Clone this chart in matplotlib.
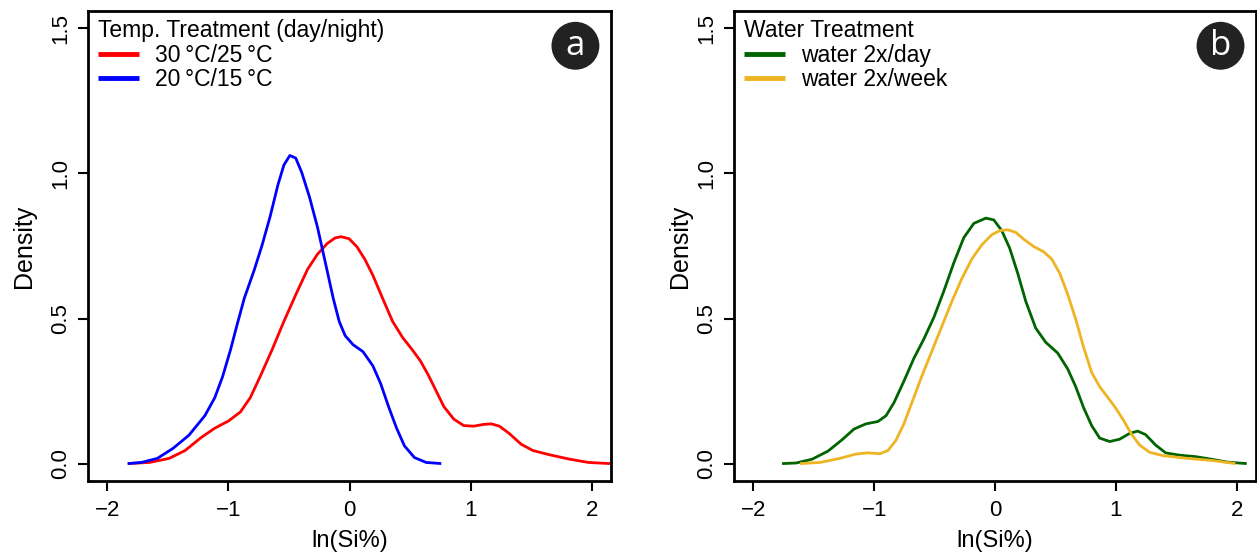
import matplotlib
matplotlib.use("Agg")
import matplotlib.pyplot as plt

# ========================= data ========================= #
# kernel density of ln(Si%) per treatment, traced as (x, density) points

# temperature treatment (day/night)
hot_x = [-1.832, -1.652, -1.489, -1.358, -1.228, -1.113, -0.999, -0.901, -0.820, -0.738,
         -0.640, -0.542, -0.444, -0.346, -0.264, -0.183, -0.118, -0.069, -0.003, 0.062,
         0.127, 0.193, 0.274, 0.356, 0.438, 0.519, 0.584, 0.650, 0.715, 0.780,
         0.862, 0.944, 1.025, 1.107, 1.172, 1.238, 1.319, 1.417, 1.515, 1.646,
         1.809, 1.972, 2.152]
hot_y = [0.000, 0.004, 0.018, 0.045, 0.089, 0.122, 0.147, 0.178, 0.227, 0.300,
         0.392, 0.490, 0.582, 0.670, 0.722, 0.759, 0.778, 0.782, 0.775, 0.747,
         0.704, 0.649, 0.569, 0.490, 0.435, 0.392, 0.355, 0.306, 0.251, 0.196,
         0.153, 0.131, 0.129, 0.135, 0.137, 0.129, 0.104, 0.067, 0.045, 0.031,
         0.016, 0.004, 0.000]

cool_x = [-1.832, -1.718, -1.587, -1.456, -1.326, -1.195, -1.113, -1.048, -0.983, -0.934,
          -0.869, -0.787, -0.722, -0.656, -0.591, -0.542, -0.493, -0.444, -0.395, -0.330,
          -0.264, -0.199, -0.134, -0.085, -0.036, 0.029, 0.111, 0.193, 0.258, 0.323,
          0.389, 0.454, 0.536, 0.633, 0.758]
cool_y = [0.000, 0.004, 0.018, 0.053, 0.098, 0.165, 0.227, 0.300, 0.392, 0.470,
          0.570, 0.667, 0.753, 0.851, 0.961, 1.029, 1.062, 1.053, 1.004, 0.918,
          0.814, 0.692, 0.569, 0.490, 0.441, 0.410, 0.386, 0.337, 0.275, 0.196,
          0.122, 0.061, 0.021, 0.004, 0.000]

# watering treatment
daily_x = [-1.762, -1.646, -1.514, -1.382, -1.266, -1.167, -1.068, -0.969, -0.902, -0.836,
           -0.754, -0.671, -0.588, -0.506, -0.423, -0.340, -0.258, -0.175, -0.076, -0.010,
           0.056, 0.122, 0.188, 0.255, 0.337, 0.420, 0.519, 0.602, 0.668, 0.734,
           0.800, 0.866, 0.949, 1.031, 1.114, 1.180, 1.246, 1.329, 1.412, 1.527,
           1.660, 1.792, 1.924, 2.083]
daily_y = [0.000, 0.002, 0.015, 0.043, 0.082, 0.119, 0.137, 0.145, 0.165, 0.210,
           0.284, 0.363, 0.430, 0.504, 0.595, 0.693, 0.779, 0.828, 0.846, 0.840,
           0.803, 0.742, 0.656, 0.559, 0.467, 0.418, 0.381, 0.326, 0.265, 0.192,
           0.131, 0.088, 0.076, 0.084, 0.104, 0.112, 0.100, 0.064, 0.037, 0.029,
           0.024, 0.015, 0.005, 0.000]

weekly_x = [-1.613, -1.448, -1.283, -1.150, -1.051, -0.952, -0.886, -0.820, -0.754, -0.688,
            -0.605, -0.522, -0.440, -0.357, -0.274, -0.192, -0.109, -0.026, 0.040, 0.106,
            0.172, 0.238, 0.321, 0.403, 0.469, 0.536, 0.602, 0.668, 0.734, 0.800,
            0.866, 0.932, 0.998, 1.064, 1.131, 1.197, 1.279, 1.395, 1.593, 1.792,
            1.990]
weekly_y = [0.000, 0.004, 0.018, 0.033, 0.037, 0.034, 0.045, 0.080, 0.137, 0.210,
            0.302, 0.388, 0.473, 0.559, 0.638, 0.705, 0.754, 0.789, 0.803, 0.806,
            0.797, 0.773, 0.748, 0.730, 0.705, 0.656, 0.583, 0.498, 0.400, 0.314,
            0.265, 0.229, 0.192, 0.149, 0.100, 0.064, 0.039, 0.027, 0.018, 0.011,
            0.000]

xticks = [-2, -1, 0, 1, 2]
yticks = [0.0, 0.5, 1.0, 1.5]
ytick_labels = ["0.0", "0.5", "1.0", "1.5"]

panels = [
    dict(letter="a", title="Temp. Treatment (day/night)",
         curves=[(hot_x, hot_y, "#FF0000", "30\u2009\u00b0C/25\u2009\u00b0C"),
                 (cool_x, cool_y, "#0000FF", "20\u2009\u00b0C/15\u2009\u00b0C")],
         rect=[88 / 1257, 75 / 556, 523 / 1257, 470 / 556], ylab_x=-0.100),
    dict(letter="b", title="Water Treatment",
         curves=[(daily_x, daily_y, "#006400", "water 2x/day"),
                 (weekly_x, weekly_y, "#EEB422", "water 2x/week")],
         rect=[734 / 1257, 75 / 556, 522 / 1257, 470 / 556], ylab_x=-0.080),
]

# ========================= plot ========================= #
plt.rcParams['font.family'] = ['Liberation Sans', 'DejaVu Sans']

fig = plt.figure(figsize=(12.57, 5.56), dpi=100)

for p in panels:
    ax = fig.add_axes(p["rect"])
    for xs, ys, col, lab in p["curves"]:
        ax.plot(xs, ys, color=col, lw=2.0, label=lab,
                solid_joinstyle="round", solid_capstyle="butt")

    # R style: 4% padding around fixed limits
    ax.set_xlim(-2.16, 2.16)
    ax.set_ylim(-0.06, 1.56)
    ax.set_xticks(xticks)
    ax.set_xticklabels([str(t).replace("-", "\u2212") for t in xticks])
    ax.set_yticks(yticks)
    ax.set_yticklabels(ytick_labels, rotation=90, va="center")
    ax.tick_params(length=7, width=1.5, labelsize=16, color="black")
    ax.tick_params(axis="x", pad=7)
    ax.tick_params(axis="y", pad=5)
    for s in ax.spines.values():
        s.set_linewidth(2.0)

    ax.set_xlabel("ln(Si%)", fontsize=17)
    ax.set_ylabel("Density", fontsize=18)
    ax.xaxis.set_label_coords(0.5, -0.104)
    ax.yaxis.set_label_coords(p["ylab_x"], 0.5)

    leg = ax.legend(title=p["title"], loc="upper left", bbox_to_anchor=(0.02, 0.982),
                    frameon=False, alignment="left", fontsize=16.5, title_fontsize=16.5,
                    handlelength=1.75, handletextpad=0.7, labelspacing=0.05,
                    borderpad=0, borderaxespad=0)
    for ln in leg.get_lines():
        ln.set_linewidth(3.5)

    ax.text(0.932, 0.926, p["letter"], transform=ax.transAxes, ha="center", va="center",
            fontsize=25, color="white", family=["Open Sans", "DejaVu Sans"],
            bbox=dict(boxstyle="circle,pad=0.2", fc="#222222", ec="none"))

fig.savefig("out.png", dpi=100)
